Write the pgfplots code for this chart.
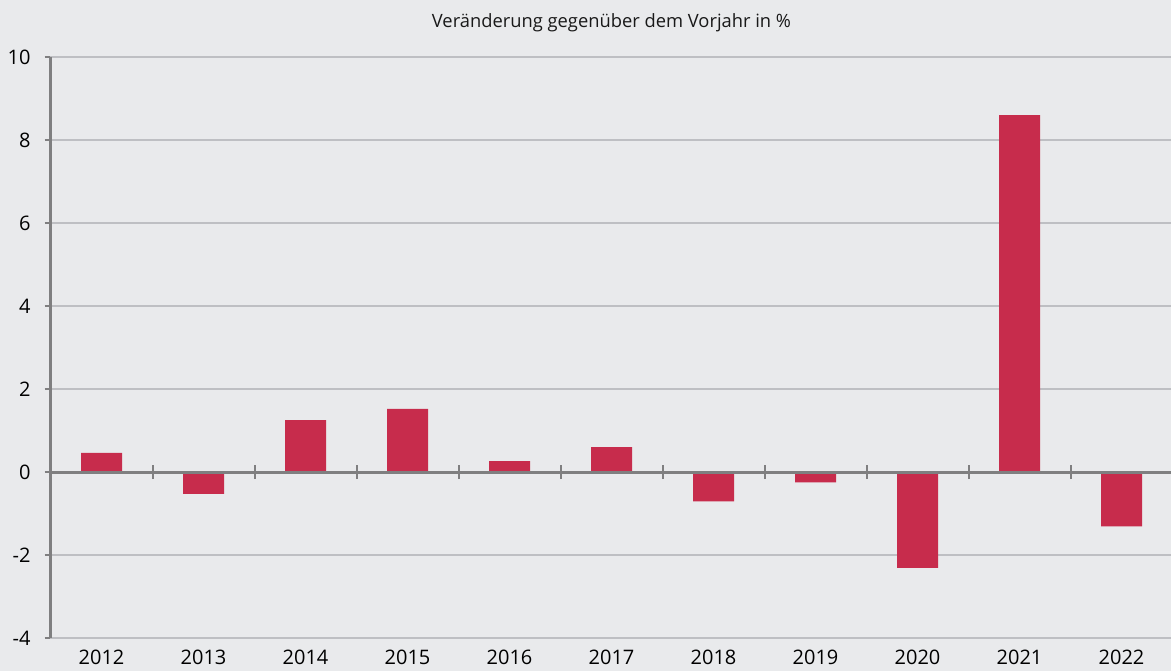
\documentclass[border=0pt]{standalone}
\usepackage{pgfplots}
\pgfplotsset{compat=1.18}
\usepackage{fontspec}
\setmainfont{Open Sans}
\definecolor{bg}{HTML}{E9EAEC}
\definecolor{barred}{HTML}{C72C4C}
\definecolor{gridgray}{HTML}{BEBFC3}
\definecolor{axisgray}{HTML}{7F7F80}
\begin{document}
\begin{tikzpicture}
\fill[bg] (0,0) rectangle (702.6pt,402.6pt);
\useasboundingbox (0,0) rectangle (702.6pt,402.6pt);
\begin{axis}[
 at={(30.3pt,19.8pt)}, anchor=south west,
 scale only axis, width=673.2pt, height=348.6pt,
 xmin=-0.5, xmax=10.5, ymin=-4, ymax=10,
 axis lines*=left,
 x axis line style={draw=none},
 y axis line style={draw=axisgray, line width=1.8pt},
 xtick={0,1,2,3,4,5,6,7,8,9,10},
 xticklabels={2012,2013,2014,2015,2016,2017,2018,2019,2020,2021,2022},
 ytick={-4,-2,0,2,4,6,8,10},
 yticklabels={-4,-2,0,2,4,6,8,10},
 tick align=outside,
 major tick length=3.6pt,
 x tick style={draw=none},
 y tick style={draw=axisgray, line width=1.2pt},
 ymajorgrids, grid style={draw=gridgray, line width=1.3pt},
 tick label style={font=\fontsize{12}{14}\selectfont, text=black},
 yticklabel style={xshift=-4.8pt},
 ybar, bar width=24.6pt,
 clip=false,
]
\addplot[fill=barred, draw=none, bar shift=0pt] coordinates {
 (0,0.46) (1,-0.53) (2,1.25) (3,1.52) (4,0.26) (5,0.60)
 (6,-0.71) (7,-0.25) (8,-2.31) (9,8.60) (10,-1.31)};
\draw[axisgray, line width=1.8pt] (axis cs:-0.5,0) -- (axis cs:10.5,0);
\pgfplotsinvokeforeach{0.5,1.5,2.5,3.5,4.5,5.5,6.5,7.5,8.5,9.5}{
 \draw[axisgray, line width=1.2pt] (axis cs:#1,-0.17) -- (axis cs:#1,0.17);
}
\node[font=\fontsize{11}{13}\selectfont, text=black!90] at (rel axis cs:0.5,1) [yshift=20.4pt] {Veränderung gegenüber dem Vorjahr in \%};
\end{axis}
\end{tikzpicture}
\end{document}
